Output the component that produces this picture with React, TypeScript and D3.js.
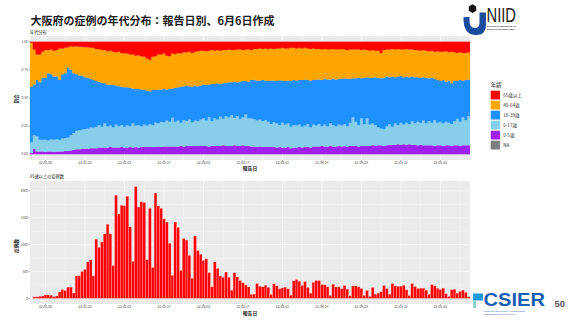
import React from 'react';
import * as d3 from 'd3';

// ---------- data ----------
const firstDay = '2022-01-01';
const dayCount = 156; // 2022-01-01 .. 2022-06-05

const tickLabels = ['22/01/06', '22/01/20', '22/02/03', '22/02/17', '22/03/03', '22/03/17', '22/03/31', '22/04/14', '22/04/28', '22/05/12', '22/05/26'];

const legendLabels = ['65歳以上', '40-64歳', '18-39歳', '6-17歳', '0-5歳', 'NA'];
const legendColors = ['#FF0000', '#FFA500', '#1E90FF', '#87CEEB', '#A020F0', '#7F7F7F'];

// share of cases (%) per report day, by age group
const age0_5 = [1.5,5,2.5,2.5,2.5,2,2.5,2.5,2,2.5, 2.5,2.5,3,3,3.5,4,4.5,4.5,5,5, 5,5.5,5.5,5.5,6,6,6,6,6.5,6, 6,6,6.5,6,6,6.5,6,6.5,6,6.5, 6.5,6.5,6.5,6.5,6.5,7,6.5,7,7,7, 7,7,7,7.5,7,7.5,7.5,7.5,7.5,7.5, 7.5,7.5,7.5,7,7.5,7.5,7.5,7.5,8,7.5, 7.5,7.5,8,7.5,7.5,8,7.5,7.5,7,7, 6.5,7,6.5,6.5,6.5,6.5,6.5,6,6.5,6, 6,6.5,5.5,6,6,6.5,6,6.5,6.5,6, 7,7,7,7.5,7,7,7.5,7,7,7.5, 7,7.5,7,7.5,7.5,7.5,7,7.5,7.5,7.5, 7.5,8,7.5,8,8,7.5,8,8.5,8.5,8.5, 9,8.5,9,8.5,9,8.5,8.5,8,8.5,8, 8,8,8,7.5,8,8,7.5,8,8,7.5, 8,8,7.5,8,8,8];
const age6_17 = [9.5,12,13.5,10.5,10.5,11,10,11,11,11, 10.5,11.5,11.5,12,13.5,15,16.5,17,17,17.5, 18,18.5,18,19,20,18.5,21.5,19,19,18, 20.5,19,19.5,18.5,20,18.5,21.5,19,20,18.5, 20,19,20.5,19.5,21.5,20.5,22.5,21.5,23,22, 25.5,22,23,20.5,23.5,22,23.5,21,22.5,22, 23.5,24.5,22.5,26,22,24.5,23.5,26,23.5,26.5, 25.5,27.5,24.5,26.5,24,25,28,24.5,25,24.5, 23.5,24,23,24,22.5,20.5,22,21.5,19.5,22, 20.5,21,19,20,19.5,20,18.5,19,20.5,18, 19.5,18.5,20,17.5,19.5,18,20,19,18,19, 18.5,19.5,18,20.5,25.5,21.5,19,24.5,19.5,24.5, 19,19.5,18.5,16,15,15,17,18.5,16,19, 17,19.5,17.5,19.5,18,21,19,21,19.5,22, 19.5,21.5,20,23,20,21,20,21,20,19.5, 21.5,23.5,21.5,25,22.5,26];
const age18_39 = [49,45,50,51,55,55,59.5,57.5,56,55.5, 53,57,57.5,62,58,53,50,48.5,48,46, 45,43,42.5,40.5,38.5,39,35.5,37,36.5,37.5, 34.5,35.5,34,35,33.5,34,31,32.5,32,32.5, 30.5,31,29,31,29,30,28.5,29.5,27.5,29, 26,30,29.5,32,30,31.5,29.5,31.5,31,31, 30,30,31.5,29,33,30.5,32,29,31.5,29.5, 31,29,32,30,33,32,29.5,32.5,34,35, 35.5,34.5,36.5,35,36,38.5,37,37.5,39.5,37.5, 38.5,38,40.5,40,40,39.5,41.5,41,39,41.5, 39.5,41,39.5,41,40.5,41.5,39,41,41.5,40.5, 41.5,40.5,42,39,34.5,38.5,42,35.5,41,36.5, 41.5,40.5,42.5,44,44.5,45.5,44,41.5,44.5,41, 43,41.5,42,41,41.5,39.5,41,39.5,40,38.5, 40.5,38,40,36.5,38,36,38.5,35.5,37.5,36, 36,33.5,37,32.5,35.5,32.5];
const age40_64 = [39,31,22.5,24.5,23,24.5,20.5,22,23,23.5, 28,23,22.5,18,21,23.5,25,25.5,25.5,26.5, 27,27.5,28.5,28.5,29,29,29.5,29.5,30,29.5, 29.5,30.5,30,30,30,29.5,30,29.5,30,29.5, 29.5,28.5,28,29.5,30,31,31,31.5,30,29, 31,30,30.5,29.5,30,29.5,30.5,30,30,31, 31,30,30,30,30,29.5,29.5,29.5,29.5,29, 29,28.5,28,29,28.5,27.5,28,28.5,26.5,27.5, 28,28.5,27.5,28.5,28.5,28.5,28,29,28,29, 29,28.5,29.5,28.5,28.5,28.5,28,28,28,28, 28,27,27,27,26.5,26.5,26.5,26.5,26.5,26, 26.5,25.5,25.5,26,25.5,25.5,25,25,25,24, 24,24.5,23.5,24,22.5,24.5,24,24.5,24.5,24.5, 24.5,23.5,24.5,24.5,24.5,24,24,24,24,24, 24,24,24,24,25.5,26,25,27,25,28, 25,25,24.5,24.5,24,24];
const age65plus = [1,7,11.5,11.5,9,7.5,7.5,7,8,7.5, 6,6,5.5,5,4,4.5,4,4.5,4.5,5, 5,5.5,5.5,6.5,6.5,7.5,7.5,8.5,8,9, 9.5,9,10,10.5,10.5,11.5,11.5,12.5,12,13, 13.5,15,16,13.5,13,11.5,11.5,10.5,12.5,13, 10.5,11,10,10.5,9.5,9.5,9,10,9,8.5, 8,8,8.5,8,7.5,8,7.5,8,7.5,7.5, 7,7.5,7.5,7,7,7.5,7,7,7.5,6.5, 6.5,6,6.5,6,6.5,6,6.5,6,6,5.5, 6,6,5.5,5.5,6,5.5,6,5.5,6,6.5, 6,6.5,6.5,7,6.5,7,7,6.5,7,7, 6.5,7,7.5,7,7,7,7,7.5,7,7.5, 8,7.5,8,8,10,7.5,7,7,6.5,7, 6.5,7,7,6.5,7,7,7.5,7.5,8,7.5, 8,8.5,8,9,8.5,9,9,8.5,9.5,9, 9.5,10,9.5,10,10,9.5];

// number of cases aged 65+ per report day
const cases65 = [0, 30,30,40,45,65,65,60,35,45,120, 165,145,210,210,100,420,420,500,540,680, 720,420,1100,950,1050,1200,1380,1200,610,1920, 1570,1735,1725,1900,1330,690,2080,1700,1800,1785, 720,1675,575,1960,1720,1675,1480,1420,1025,430, 1420,1320,520,1115,1085,800,375,1160,890, 822,705,736,480,215,680,560,417,393,490,393,153, 480,400,330,290,250, 215,74,80,276,227,215,245,203,74,270,233,178,196,209,178,61,325,350,320,240,313,203,98, 300, 332,332,258,252,215,55,264,215,215,178, 240,172,49,233,233,215,184,55,147,37, 203,80,98,123,240,184,80,276,233,227, 227,245,160,55,276,221,184,190,190,153, 74,258,233,190,166,190,86,37,160,172, 98,129,153,110,31];

// ---------- helpers ----------
const FONT = "'Noto Sans CJK JP', 'Noto Sans', sans-serif";
const LOGO_FONT = "'Liberation Sans', sans-serif";
const parseDay = d3.timeParse('%Y-%m-%d');
const parseTick = d3.timeParse('%y/%m/%d');
const day0 = parseDay(firstDay) as Date;
const days = d3.range(dayCount).map((i) => d3.timeDay.offset(day0, i));
const tickDates = tickLabels.map((t) => parseTick(t) as Date);

const keys = ['a0', 'a1', 'a2', 'a3', 'a4'];
const rows = days.map((d, i) => ({
  date: d,
  a0: age0_5[i] ?? 0,
  a1: age6_17[i] ?? 0,
  a2: age18_39[i] ?? 0,
  a3: age40_64[i] ?? 0,
  a4: age65plus[i] ?? 0,
}));
const stackColors = ['#A020F0', '#87CEEB', '#1E90FF', '#FFA500', '#FF0000'];

const xL = 30, xR = 470;
const x = d3
  .scaleTime()
  .domain([d3.timeHour.offset(days[0], -12), d3.timeHour.offset(days[dayCount - 1], 12)])
  .range([xL, xR]);
const bw = x(days[1]) - x(days[0]);

const minorDates: Date[] = [];
tickDates.forEach((t) => {
  [-7, 7].forEach((o) => {
    const m = d3.timeDay.offset(t, o);
    if (x(m) > xL && x(m) < xR && !minorDates.some((q) => +q === +m)) minorDates.push(m);
  });
});
const minorX = minorDates.filter((m) => !tickDates.some((t) => +t === +m));

// top panel
const topY0 = 36, topY1 = 160;
const yTop = d3.scaleLinear().domain([-0.05, 1.05]).range([topY1, topY0]);
const topTicks = [0, 0.25, 0.5, 0.75, 1];

// bottom panel
const botY0 = 181, botY1 = 304;
const maxC = d3.max(cases65) as number;
const yBot = d3.scaleLinear().domain([-0.05 * maxC, 1.05 * maxC]).range([botY1, botY0]);
const botTicks = [0, 500, 1000, 1500, 2000];

const series = d3.stack<any>().keys(keys).offset(d3.stackOffsetExpand)(rows as any);

type StepPt = { px: number; lo: number; hi: number };
const stepArea = d3
  .area<StepPt>()
  .x((p) => p.px)
  .y0((p) => yTop(p.lo))
  .y1((p) => yTop(p.hi));

const seriesPaths = series.map((s) => {
  const pts: StepPt[] = [];
  s.forEach((d: any, i: number) => {
    const cx = x(days[i]);
    pts.push({ px: cx - bw / 2, lo: d[0], hi: d[1] });
    pts.push({ px: cx + bw / 2, lo: d[0], hi: d[1] });
  });
  return stepArea(pts) as string;
});

const tickTextStyle = { fontFamily: FONT, fontSize: 3.2, fill: '#4D4D4D' } as const;

function XAxis({ y0 }: { y0: number }) {
  return (
    <g>
      {tickDates.map((t, i) => (
        <g key={i}>
          <line x1={x(t)} x2={x(t)} y1={y0} y2={y0 + 1.3} stroke="#333" strokeWidth={0.4} />
          <text x={x(t)} y={y0 + 4.1} textAnchor="middle" style={tickTextStyle}>
            {tickLabels[i]}
          </text>
        </g>
      ))}
    </g>
  );
}

export default function App() {
  return (
    <svg
      width={569}
      height={320}
      viewBox="0 0 569 320"
      style={{ position: 'absolute', left: 0, top: 0, background: '#fff' }}
    >
      <rect x={0} y={0} width={569} height={320} fill="#fff" />
      {/* Title */}
      <text x={30.5} y={25} style={{ fontFamily: FONT, fontSize: 11, fontWeight: 700, fill: '#1a1a1a' }}>
        大阪府の症例の年代分布：報告日別、6月6日作成
      </text>

      {/* NIID logo */}
      <g>
        <polygon
          points={d3.range(6).map((k) => {
            const a = (Math.PI / 3) * k + Math.PI / 6;
            return `${472.5 + 4.3 * Math.cos(a)},${8.6 + 4.3 * Math.sin(a)}`;
          }).join(' ')}
          fill="#111"
        />
        <path d="M463.5,17 Q463,35 476,35 Q486,35 486,25 L486,12.5 L479.5,12.5 L479.5,22 Q479.5,28 475,28 Q469.5,28 469.5,21 L469.5,17 Z" fill="#1C4C9C" />
        <text x={486.5} y={21.5} textLength={29.5} lengthAdjust="spacingAndGlyphs" style={{ fontFamily: LOGO_FONT, fontSize: 19.5, fill: '#222' }}>
          NIID
        </text>
        <text x={487} y={27.3} style={{ fontFamily: LOGO_FONT, fontSize: 2.4, fontWeight: 700, fill: '#222' }}>NATIONAL INSTITUTE OF</text>
        <text x={487} y={30} style={{ fontFamily: LOGO_FONT, fontSize: 2.4, fontWeight: 700, fill: '#222' }}>INFECTIOUS DISEASES</text>
      </g>

      {/* ===== Top chart ===== */}
      <text x={30} y={33.6} style={{ fontFamily: FONT, fontSize: 4.2, fill: '#222' }}>年代分布</text>
      <rect x={xL} y={topY0} width={xR - xL} height={topY1 - topY0} fill="#EBEBEB" />
      {minorX.map((m, i) => (
        <line key={'tm' + i} x1={x(m)} x2={x(m)} y1={topY0} y2={topY1} stroke="#fff" strokeWidth={0.3} />
      ))}
      {tickDates.map((t, i) => (
        <line key={'tg' + i} x1={x(t)} x2={x(t)} y1={topY0} y2={topY1} stroke="#fff" strokeWidth={0.6} />
      ))}
      {topTicks.map((v, i) => (
        <line key={'th' + i} x1={xL} x2={xR} y1={yTop(v)} y2={yTop(v)} stroke="#fff" strokeWidth={0.6} />
      ))}
      {seriesPaths.map((p, si) => (
        <path key={'s' + si} d={p} fill={stackColors[si]} stroke={stackColors[si]} strokeWidth={0.15} />
      ))}
      {topTicks.map((v, i) => (
        <g key={'tyt' + i}>
          <line x1={xL - 1.4} x2={xL} y1={yTop(v)} y2={yTop(v)} stroke="#333" strokeWidth={0.4} />
          <text x={xL - 2.2} y={yTop(v) + 1.1} textAnchor="end" style={tickTextStyle}>
            {d3.format('.2f')(v)}
          </text>
        </g>
      ))}
      <XAxis y0={topY1} />
      <text x={250} y={170.2} textAnchor="middle" style={{ fontFamily: FONT, fontSize: 4.8, fontWeight: 700, fill: '#222' }}>報告日</text>
      <text transform="translate(18,99) rotate(-90)" textAnchor="middle" style={{ fontFamily: FONT, fontSize: 4.6, fontWeight: 700, fill: '#222' }}>割合</text>

      {/* Legend */}
      <text x={490.7} y={87} style={{ fontFamily: FONT, fontSize: 5.4, fill: '#222' }}>年齢</text>
      {legendLabels.map((lab, i) => (
        <g key={'lg' + i}>
          <rect x={490.7} y={90.7 + i * 10} width={9.3} height={8.8} fill={legendColors[i]} />
          <text x={503.2} y={90.7 + i * 10 + 6.1} style={{ fontFamily: FONT, fontSize: 4.6, fill: '#333' }}>{lab}</text>
        </g>
      ))}

      {/* ===== Bottom chart ===== */}
      <text x={30} y={178.4} style={{ fontFamily: FONT, fontSize: 4.2, fill: '#222' }}>65歳以上の症例数</text>
      <rect x={xL} y={botY0} width={xR - xL} height={botY1 - botY0} fill="#EBEBEB" />
      {minorX.map((m, i) => (
        <line key={'bm' + i} x1={x(m)} x2={x(m)} y1={botY0} y2={botY1} stroke="#fff" strokeWidth={0.3} />
      ))}
      {[250, 750, 1250, 1750].map((v, i) => (
        <line key={'bmy' + i} x1={xL} x2={xR} y1={yBot(v)} y2={yBot(v)} stroke="#fff" strokeWidth={0.3} />
      ))}
      {tickDates.map((t, i) => (
        <line key={'bg' + i} x1={x(t)} x2={x(t)} y1={botY0} y2={botY1} stroke="#fff" strokeWidth={0.6} />
      ))}
      {botTicks.map((v, i) => (
        <line key={'bh' + i} x1={xL} x2={xR} y1={yBot(v)} y2={yBot(v)} stroke="#fff" strokeWidth={0.6} />
      ))}
      {cases65.map((c, i) =>
        c > 0 ? (
          <rect
            key={'bb' + i}
            x={x(days[i]) - bw / 2}
            y={yBot(c)}
            width={bw}
            height={yBot(0) - yBot(c)}
            fill="#FF0000"
            stroke="#FFE0E0"
            strokeWidth={0.25}
          />
        ) : null
      )}
      {botTicks.map((v, i) => (
        <g key={'byt' + i}>
          <line x1={xL - 1.4} x2={xL} y1={yBot(v)} y2={yBot(v)} stroke="#333" strokeWidth={0.4} />
          <text x={xL - 2.2} y={yBot(v) + 1.1} textAnchor="end" style={tickTextStyle}>
            {v}
          </text>
        </g>
      ))}
      <XAxis y0={botY1} />
      <text x={250} y={315.3} textAnchor="middle" style={{ fontFamily: FONT, fontSize: 4.8, fontWeight: 700, fill: '#222' }}>報告日</text>
      <text transform="translate(18,246) rotate(-90)" textAnchor="middle" style={{ fontFamily: FONT, fontSize: 4.6, fontWeight: 700, fill: '#222' }}>症例数</text>

      {/* CSIER logo */}
      <g>
        <rect x={473} y={293.5} width={10} height={7} fill="#1E9BE0" />
        <rect x={473} y={300.5} width={3.2} height={7.5} fill="#8ED3D0" />
        <text x={483.5} y={305.8} textLength={61.5} lengthAdjust="spacingAndGlyphs" style={{ fontFamily: LOGO_FONT, fontSize: 18.5, fontWeight: 700, fill: '#1A5DB5' }}>
          CSIER
        </text>
        <text x={483.5} y={312} style={{ fontFamily: LOGO_FONT, fontSize: 2.5, fill: '#1A5DB5' }}>Center for Surveillance, Immunization,</text>
        <text x={483.5} y={314.8} style={{ fontFamily: LOGO_FONT, fontSize: 2.5, fill: '#1A5DB5' }}>and Epidemiologic Research</text>
      </g>
      <text x={554.5} y={307} style={{ fontFamily: LOGO_FONT, fontSize: 9.5, fontWeight: 700, fill: '#555' }}>50</text>
    </svg>
  );
}
